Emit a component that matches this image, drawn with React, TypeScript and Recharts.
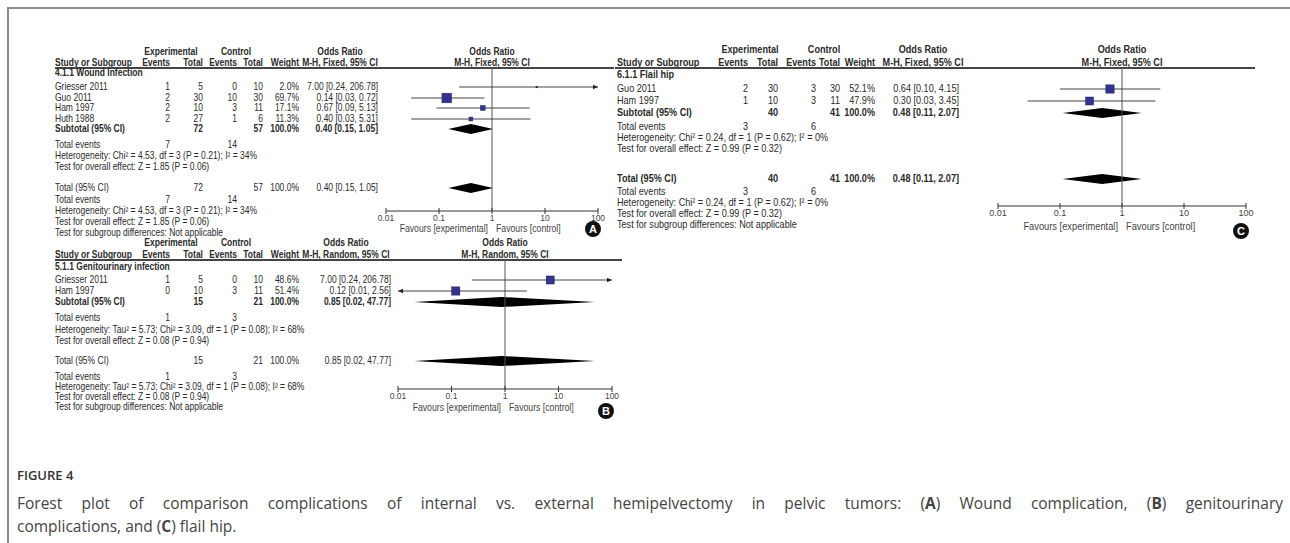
import React from "react";
import { ComposedChart, XAxis, YAxis, Scatter, Area, ReferenceLine } from "recharts";

const FONT = '"Liberation Sans", Arial, Helvetica, sans-serif';
const INK = "#2a2a2a";

const AXIS_TICKS = [0.01, 0.1, 1, 10, 100];
const AXIS_LABELS = ["0.01", "0.1", "1", "10", "100"];
const FAVOURS = ["Favours [experimental]", "Favours [control]"];

// (A) 4.1.1 Wound Infection, M-H fixed
const A_STUDY = ["Griesser 2011", "Guo 2011", "Ham 1997", "Huth 1988"];
const A_EXP_EVENTS = [1, 2, 2, 2];
const A_EXP_TOTAL = [5, 30, 10, 27];
const A_CTL_EVENTS = [0, 10, 3, 1];
const A_CTL_TOTAL = [10, 30, 11, 6];
const A_WEIGHT = [2.0, 69.7, 17.1, 11.3];
const A_OR = [7.0, 0.14, 0.67, 0.4];
const A_LOW = [0.24, 0.03, 0.09, 0.03];
const A_HIGH = [206.78, 0.72, 5.13, 5.31];
const A_POOLED = [0.4, 0.15, 1.05];
const A_TEXT = [
  "4.1.1 Wound Infection",
  "M-H, Fixed, 95% CI",
  "Heterogeneity: Chi² = 4.53, df = 3 (P = 0.21); I² = 34%",
  "Test for overall effect: Z = 1.85 (P = 0.06)",
];

// (B) 5.1.1 Genitourinary infection, M-H random
const B_STUDY = ["Griesser 2011", "Ham 1997"];
const B_EXP_EVENTS = [1, 0];
const B_EXP_TOTAL = [5, 10];
const B_CTL_EVENTS = [0, 3];
const B_CTL_TOTAL = [10, 11];
const B_WEIGHT = [48.6, 51.4];
const B_OR = [7.0, 0.12];
const B_LOW = [0.24, 0.01];
const B_HIGH = [206.78, 2.56];
const B_POOLED = [0.85, 0.02, 47.77];
const B_TEXT = [
  "5.1.1 Genitourinary infection",
  "M-H, Random, 95% CI",
  "Heterogeneity: Tau² = 5.73; Chi² = 3.09, df = 1 (P = 0.08); I² = 68%",
  "Test for overall effect: Z = 0.08 (P = 0.94)",
];

// (C) 6.1.1 Flail hip, M-H fixed
const C_STUDY = ["Guo 2011", "Ham 1997"];
const C_EXP_EVENTS = [2, 1];
const C_EXP_TOTAL = [30, 10];
const C_CTL_EVENTS = [3, 3];
const C_CTL_TOTAL = [30, 11];
const C_WEIGHT = [52.1, 47.9];
const C_OR = [0.64, 0.3];
const C_LOW = [0.1, 0.03];
const C_HIGH = [4.15, 3.45];
const C_POOLED = [0.48, 0.11, 2.07];
const C_TEXT = [
  "6.1.1 Flail hip",
  "M-H, Fixed, 95% CI",
  "Heterogeneity: Chi² = 0.24, df = 1 (P = 0.62); I² = 0%",
  "Test for overall effect: Z = 0.99 (P = 0.32)",
];

const sum = (a: number[]) => a.reduce((s, v) => s + v, 0);
const f2 = (v: number) => v.toFixed(2);
const orText = (o: number, l: number, h: number) => `${f2(o)} [${f2(l)}, ${f2(h)}]`;

function makePanel(name, ee, et, ce, ct, w, or, lo, hi, pooled, text) {
  return {
    studies: name.map((n, i) => ({
      name: n, expEv: ee[i], expTot: et[i], ctlEv: ce[i], ctlTot: ct[i],
      weight: w[i], or: or[i], lo: lo[i], hi: hi[i],
    })),
    pooled,
    group: text[0], method: text[1], het: text[2], effect: text[3],
  };
}

const PANEL_A = makePanel(A_STUDY, A_EXP_EVENTS, A_EXP_TOTAL, A_CTL_EVENTS, A_CTL_TOTAL, A_WEIGHT, A_OR, A_LOW, A_HIGH, A_POOLED, A_TEXT);
const PANEL_B = makePanel(B_STUDY, B_EXP_EVENTS, B_EXP_TOTAL, B_CTL_EVENTS, B_CTL_TOTAL, B_WEIGHT, B_OR, B_LOW, B_HIGH, B_POOLED, B_TEXT);
const PANEL_C = makePanel(C_STUDY, C_EXP_EVENTS, C_EXP_TOTAL, C_CTL_EVENTS, C_CTL_TOTAL, C_WEIGHT, C_OR, C_LOW, C_HIGH, C_POOLED, C_TEXT);

// layout (page pixels)
const LAYOUT_A = {
  letter: "A", font: 8.5, totalBold: false,
  cols: { study: 55, expEv: 170, expTot: 203, ctlEv: 237, ctlTot: 263, weight: 299, or: 378 },
  head: { exp: 171, ctl: 236, or: 340 },
  rule: [55, 614],
  plot: { x0: 386, x1: 598, top: 68, axis: 211 },
  rows: { head1: 52, head2: 63, group: 73, studies: [87, 98, 108, 119], subtotal: 129, ev: 145, het: 156, eff: 167,
    total: 188, ev2: 200, het2: 211, eff2: 222, sub: 233, favours: 229 },
  badge: [593, 229],
};
const LAYOUT_B = {
  letter: "B", font: 8.5, totalBold: false,
  cols: { study: 55, expEv: 170, expTot: 203, ctlEv: 237, ctlTot: 263, weight: 299, or: 391 },
  head: { exp: 171, ctl: 236, or: 346 },
  rule: [55, 622],
  plot: { x0: 398, x1: 612, top: 260, axis: 389 },
  rows: { head1: 243, head2: 255, group: 267, studies: [280, 291], subtotal: 302, ev: 318, het: 330, eff: 341,
    total: 361, ev2: 377, het2: 387, eff2: 397, sub: 407, favours: 408 },
  badge: [606, 411],
};
const LAYOUT_C = {
  letter: "C", font: 9.1, totalBold: true,
  cols: { study: 617, expEv: 748, expTot: 778, ctlEv: 816, ctlTot: 840, weight: 875, or: 959 },
  head: { exp: 750, ctl: 824, or: 923 },
  rule: [615, 1255],
  plot: { x0: 998, x1: 1246, top: 68, axis: 206 },
  rows: { head1: 50, head2: 63, group: 75, studies: [89, 101], subtotal: 113, ev: 127, het: 138, eff: 149,
    total: 179, ev2: 192, het2: 203, eff2: 214, sub: 225, favours: 227 },
  badge: [1241, 231],
};

function T({ x, y, a = "start", b = false, s, c = INK, children }: any) {
  const tx = a === "end" ? "-100%" : a === "middle" ? "-50%" : "0";
  return (
    <div
      style={{
        position: "absolute", left: x, top: y, fontSize: s, lineHeight: 1, fontWeight: b ? 700 : 400,
        color: c, whiteSpace: "nowrap", fontFamily: FONT,
        transform: `translate(${tx}, -50%) scaleY(1.18)`,
      }}
    >
      {children}
    </div>
  );
}

const Square = (p: any) => {
  const s = 1.15 * Math.sqrt(p.payload.weight);
  return <rect x={p.cx - s / 2} y={p.cy - s / 2} width={s} height={s} fill="#34348e" stroke="#20205a" strokeWidth={0.5} />;
};

const Arrow = (p: any) => {
  const d = p.payload.dir;
  const pts = `${p.cx},${p.cy} ${p.cx - d * 5},${p.cy - 2.2} ${p.cx - d * 5},${p.cy + 2.2}`;
  return <polygon points={pts} fill="#222" />;
};

const AxisTick = ({ x, y, payload, fs }: any) => {
  const i = AXIS_TICKS.indexOf(payload.value);
  return (
    <g>
      <line x1={x} x2={x} y1={y - 3} y2={y + 3} stroke="#333" />
      <text x={x} y={y + 10} textAnchor="middle" fontSize={fs} fill="#444" fontFamily={FONT}>
        {AXIS_LABELS[i]}
      </text>
    </g>
  );
};

function Forest({ d, L }: any) {
  const { x0, x1, top, axis } = L.plot;
  const padX = 14;
  const axisH = 30;
  const squares = d.studies.map((s, i) => ({ x: s.or, y: L.rows.studies[i], weight: s.weight }));
  const arrows: any[] = [];
  d.studies.forEach((s, i) => {
    if (s.hi > 100) arrows.push({ x: 100, y: L.rows.studies[i], dir: 1 });
    if (s.lo <= 0.01) arrows.push({ x: 0.01, y: L.rows.studies[i], dir: -1 });
  });
  const dh = 5;
  const diamond = (y: number) => [
    { x: d.pooled[1], band: [y, y] },
    { x: d.pooled[0], band: [y - dh, y + dh] },
    { x: d.pooled[2], band: [y, y] },
  ];
  return (
    <div style={{ position: "absolute", left: x0 - padX, top }}>
      <ComposedChart width={x1 - x0 + padX * 2} height={axis - top + axisH} margin={{ top: 0, right: padX, bottom: 0, left: padX }}>
        <XAxis
          dataKey="x" type="number" scale="log" domain={[0.01, 100]} ticks={AXIS_TICKS} interval={0}
          allowDataOverflow height={axisH} axisLine={{ stroke: "#333" }} tickLine={false} tickSize={0} tickMargin={0}
          tick={(p: any) => <AxisTick {...p} fs={L.font} />}
        />
        <YAxis type="number" domain={[top, axis]} reversed hide allowDataOverflow />
        <ReferenceLine x={1} stroke="#555" />
        {d.studies.map((s, i) => (
          <ReferenceLine
            key={s.name}
            segment={[
              { x: Math.max(s.lo, 0.01), y: L.rows.studies[i] },
              { x: Math.min(s.hi, 100), y: L.rows.studies[i] },
            ]}
            stroke="#444"
          />
        ))}
        <Area data={diamond(L.rows.subtotal)} dataKey="band" type="linear" stroke="none" fill="#000" fillOpacity={1} isAnimationActive={false} />
        <Area data={diamond(L.rows.total)} dataKey="band" type="linear" stroke="none" fill="#000" fillOpacity={1} isAnimationActive={false} />
        <Scatter data={squares} dataKey="y" shape={Square} isAnimationActive={false} />
        <Scatter data={arrows} dataKey="y" shape={Arrow} isAnimationActive={false} />
      </ComposedChart>
    </div>
  );
}

function Panel({ d, L }: any) {
  const s = L.font;
  const c = L.cols;
  const r = L.rows;
  const mid = (L.plot.x0 + L.plot.x1) / 2;
  const expTot = sum(d.studies.map((x) => x.expTot));
  const ctlTot = sum(d.studies.map((x) => x.ctlTot));
  const expEv = sum(d.studies.map((x) => x.expEv));
  const ctlEv = sum(d.studies.map((x) => x.ctlEv));
  const pooledText = orText(d.pooled[0], d.pooled[1], d.pooled[2]);
  const summary = (y: number, label: string, bold: boolean) => (
    <>
      <T x={c.study} y={y} b={bold} s={s}>{label}</T>
      <T x={c.expTot} y={y} a="end" b={bold} s={s}>{expTot}</T>
      <T x={c.ctlTot} y={y} a="end" b={bold} s={s}>{ctlTot}</T>
      <T x={c.weight} y={y} a="end" b={bold} s={s}>100.0%</T>
      <T x={c.or} y={y} a="end" b={bold} s={s}>{pooledText}</T>
    </>
  );
  const events = (y: number) => (
    <>
      <T x={c.study} y={y} s={s}>Total events</T>
      <T x={c.expEv} y={y} a="end" s={s}>{expEv}</T>
      <T x={c.ctlEv} y={y} a="end" s={s}>{ctlEv}</T>
    </>
  );
  return (
    <>
      <T x={L.head.exp} y={r.head1} a="middle" b s={s}>Experimental</T>
      <T x={L.head.ctl} y={r.head1} a="middle" b s={s}>Control</T>
      <T x={L.head.or} y={r.head1} a="middle" b s={s}>Odds Ratio</T>
      <T x={mid} y={r.head1} a="middle" b s={s}>Odds Ratio</T>
      <T x={c.study} y={r.head2} b s={s}>Study or Subgroup</T>
      <T x={c.expEv} y={r.head2} a="end" b s={s}>Events</T>
      <T x={c.expTot} y={r.head2} a="end" b s={s}>Total</T>
      <T x={c.ctlEv} y={r.head2} a="end" b s={s}>Events</T>
      <T x={c.ctlTot} y={r.head2} a="end" b s={s}>Total</T>
      <T x={c.weight} y={r.head2} a="end" b s={s}>Weight</T>
      <T x={L.head.or} y={r.head2} a="middle" b s={s}>{d.method}</T>
      <T x={mid} y={r.head2} a="middle" b s={s}>{d.method}</T>
      <div style={{ position: "absolute", left: L.rule[0], top: L.plot.top - 1, width: L.rule[1] - L.rule[0], height: 1.5, background: "#444" }} />
      <T x={c.study} y={r.group} b s={s}>{d.group}</T>
      {d.studies.map((st, i) => (
        <React.Fragment key={st.name}>
          <T x={c.study} y={r.studies[i]} s={s}>{st.name}</T>
          <T x={c.expEv} y={r.studies[i]} a="end" s={s}>{st.expEv}</T>
          <T x={c.expTot} y={r.studies[i]} a="end" s={s}>{st.expTot}</T>
          <T x={c.ctlEv} y={r.studies[i]} a="end" s={s}>{st.ctlEv}</T>
          <T x={c.ctlTot} y={r.studies[i]} a="end" s={s}>{st.ctlTot}</T>
          <T x={c.weight} y={r.studies[i]} a="end" s={s}>{st.weight.toFixed(1)}%</T>
          <T x={c.or} y={r.studies[i]} a="end" s={s}>{orText(st.or, st.lo, st.hi)}</T>
        </React.Fragment>
      ))}
      {summary(r.subtotal, "Subtotal (95% CI)", true)}
      {events(r.ev)}
      <T x={c.study} y={r.het} s={s}>{d.het}</T>
      <T x={c.study} y={r.eff} s={s}>{d.effect}</T>
      {summary(r.total, "Total (95% CI)", L.totalBold)}
      {events(r.ev2)}
      <T x={c.study} y={r.het2} s={s}>{d.het}</T>
      <T x={c.study} y={r.eff2} s={s}>{d.effect}</T>
      <T x={c.study} y={r.sub} s={s}>Test for subgroup differences: Not applicable</T>
      <Forest d={d} L={L} />
      <T x={mid - 4} y={r.favours} a="end" s={s + 0.2} c="#444">{FAVOURS[0]}</T>
      <T x={mid + 4} y={r.favours} s={s + 0.2} c="#444">{FAVOURS[1]}</T>
      <div
        style={{
          position: "absolute", left: L.badge[0] - 8, top: L.badge[1] - 8, width: 16, height: 16, borderRadius: 8,
          background: "#111", color: "#fff", fontFamily: FONT, fontWeight: 700, fontSize: 11, lineHeight: "16px", textAlign: "center",
        }}
      >
        {L.letter}
      </div>
    </>
  );
}

export default function App() {
  const cap = { fontFamily: '"Open Sans", sans-serif', color: "#444" };
  return (
    <div style={{ position: "absolute", left: 0, top: 0, width: 1290, height: 543, background: "#fff", overflow: "hidden" }}>
      <div style={{ position: "absolute", left: 7, top: 7, width: 1283, height: 1.5, background: "#8a8a8a" }} />
      <div style={{ position: "absolute", left: 7, top: 7, width: 1.5, height: 536, background: "#8a8a8a" }} />
      <Panel d={PANEL_A} L={LAYOUT_A} />
      <Panel d={PANEL_B} L={LAYOUT_B} />
      <Panel d={PANEL_C} L={LAYOUT_C} />
      <div style={{ ...cap, position: "absolute", left: 17, top: 466, fontSize: 13, fontWeight: 600, color: "#333", lineHeight: "18px" }}>
        FIGURE 4
      </div>
      <div style={{ ...cap, position: "absolute", left: 17, top: 492, width: 1266, fontSize: 15.5, lineHeight: "23px", textAlign: "justify", textAlignLast: "justify" }}>
        Forest plot of comparison complications of internal vs. external hemipelvectomy in pelvic tumors: (<b>A</b>) Wound complication, (<b>B</b>) genitourinary
      </div>
      <div style={{ ...cap, position: "absolute", left: 17, top: 515, fontSize: 15.5, lineHeight: "23px" }}>
        complications, and (<b>C</b>) flail hip.
      </div>
    </div>
  );
}
